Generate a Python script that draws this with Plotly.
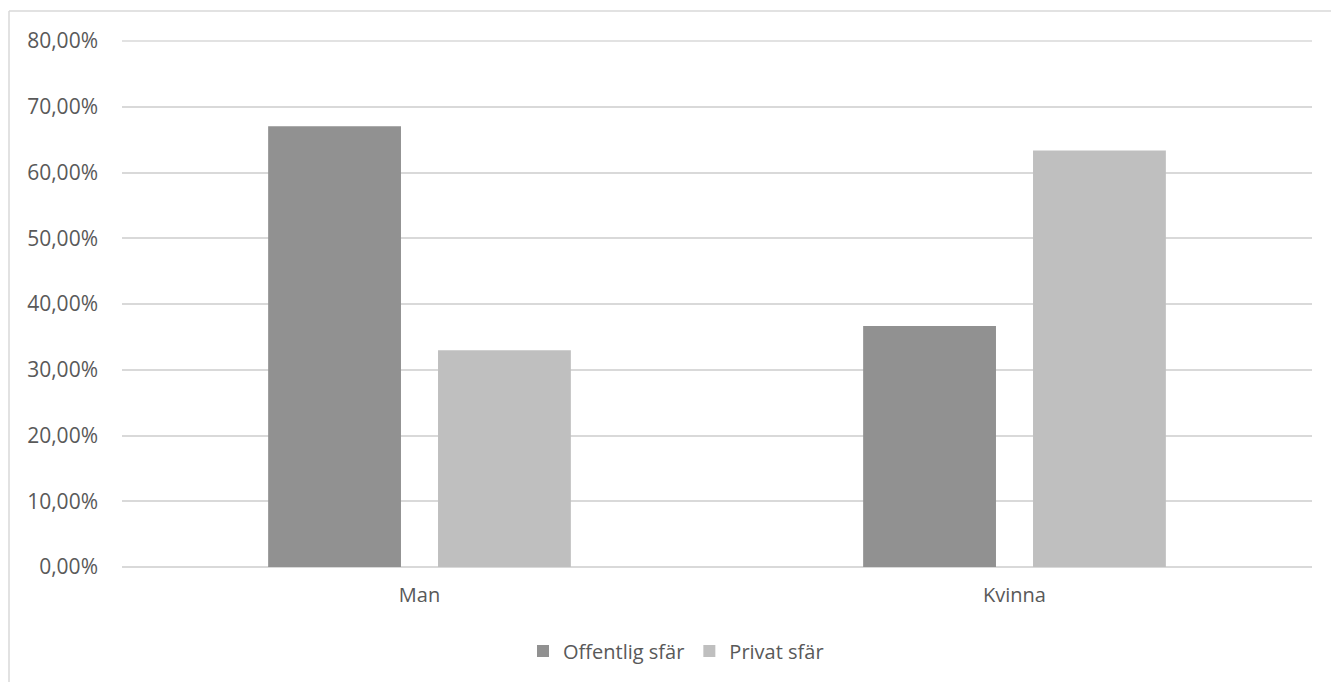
import plotly.graph_objects as go

categories = ["Man", "Kvinna"]
series_names = ["Offentlig sfär", "Privat sfär"]
offentlig = [0.6705, 0.3665]
privat = [0.3295, 0.6335]
colors = ["#919191", "#bfbfbf"]
y_ticks = [0, 0.1, 0.2, 0.3, 0.4, 0.5, 0.6, 0.7, 0.8]

W, H = 1331, 682
L, R, T, B = 122, 19, 41, 115
pw, ph = W - L - R, H - T - B

font_family = "Open Sans"
txt = "#595959"
grid = "#d9d9d9"

fig = go.Figure()
for name, vals, col in zip(series_names, [offentlig, privat], colors):
    fig.add_trace(go.Bar(x=categories, y=vals, name=name, marker=dict(color=col, line=dict(width=0))))

def px2x(px):
    return (px - L) / pw

def py2y(py):
    return (H - B - py) / ph

fig.update_layout(
    width=W, height=H,
    margin=dict(l=L, r=R, t=T, b=B),
    paper_bgcolor="white", plot_bgcolor="white",
    separators=", ",
    barmode="group", bargap=0.429, bargroupgap=0.218,
    font=dict(family=font_family, size=20, color=txt),
    showlegend=True,
    legend=dict(orientation="h", x=px2x(676), xanchor="center", y=py2y(651), yanchor="middle",
                font=dict(size=20, color=txt), traceorder="normal", tracegroupgap=0),
    xaxis=dict(showgrid=False, showline=False, ticks="", tickfont=dict(size=20, color=txt),
               ticklabelstandoff=14),
    yaxis=dict(range=[0, y_ticks[-1]], tickvals=y_ticks, tickformat=".2%", showgrid=True,
               gridcolor=grid, gridwidth=1.5, zeroline=True, zerolinecolor=grid,
               zerolinewidth=1.5, showline=False, ticks="", tickfont=dict(size=21, color=txt),
               ticklabelstandoff=23),
    shapes=[
        dict(type="line", xref="paper", yref="paper", x0=0, x1=1, y0=1, y1=1,
             line=dict(color=grid, width=1.5), layer="below"),
        dict(type="line", xref="paper", yref="paper", x0=px2x(9), x1=px2x(9), y0=py2y(11), y1=py2y(700),
             line=dict(color=grid, width=1.5)),
        dict(type="line", xref="paper", yref="paper", x0=px2x(9), x1=px2x(1340), y0=py2y(11), y1=py2y(11),
             line=dict(color=grid, width=1.5)),
    ],
)

fig.write_html("out.html")
